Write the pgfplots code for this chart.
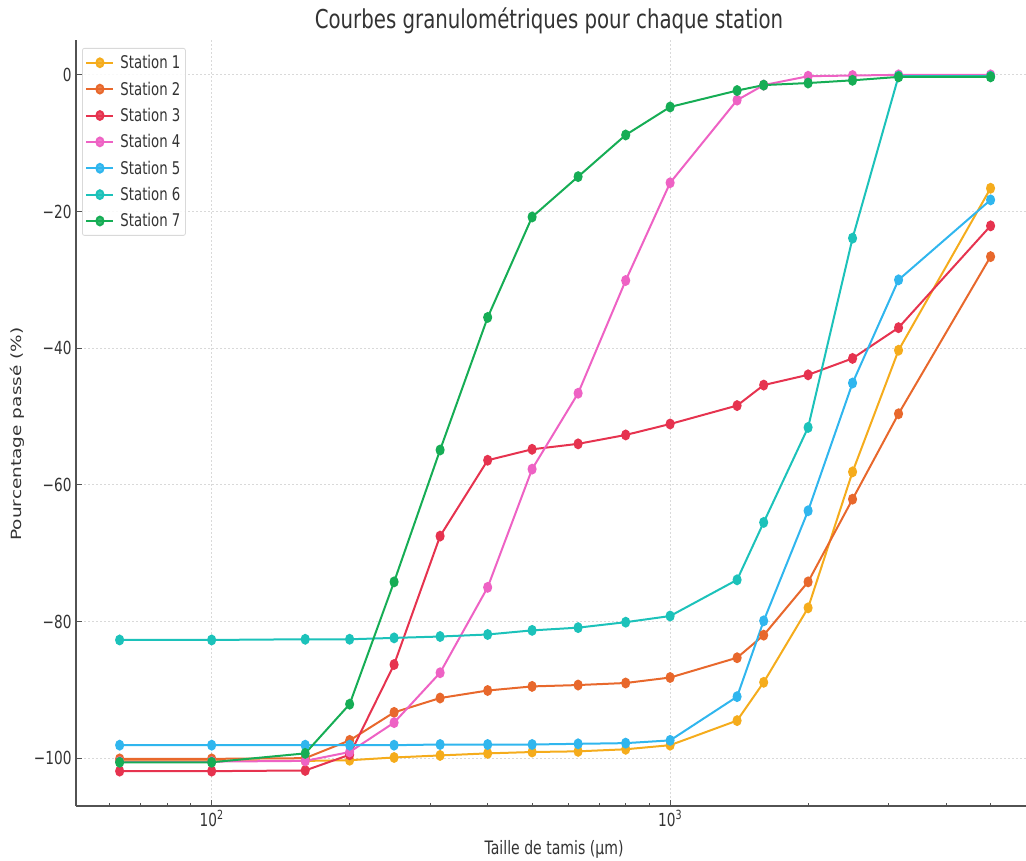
\documentclass[border=0pt]{standalone}
\usepackage{graphicx}
\usepackage{fontspec}
\setmainfont{DejaVu Sans}[FakeStretch=0.76]
\newfontfamily\ylabfont{DejaVu Sans}
\usepackage{pgfplots}
\usepackage{pgfplotstable}
\pgfplotsset{compat=1.18}

\definecolor{cA}{HTML}{F5AC1C}
\definecolor{cB}{HTML}{E8682C}
\definecolor{cC}{HTML}{E6334F}
\definecolor{cD}{HTML}{EE62C4}
\definecolor{cE}{HTML}{30B6EE}
\definecolor{cF}{HTML}{1CC2BA}
\definecolor{cG}{HTML}{16AD55}
\definecolor{txt}{HTML}{333333}

\pgfplotstableread{
x     s1     s2     s3     s4     s5    s6    s7
63   -100.4 -100.1 -101.9 -100.5 -98.1 -82.7 -100.6
100  -100.4 -100.1 -101.9 -100.5 -98.1 -82.7 -100.6
160  -100.4 -100.0 -101.8 -100.4 -98.1 -82.6 -99.3
200  -100.3 -97.4  -99.5  -99.1  -98.1 -82.6 -92.1
250  -99.9  -93.3  -86.3  -94.8  -98.1 -82.4 -74.2
315  -99.6  -91.2  -67.5  -87.5  -98.0 -82.2 -54.9
400  -99.3  -90.1  -56.4  -75.0  -98.0 -81.9 -35.5
500  -99.1  -89.5  -54.8  -57.7  -98.0 -81.3 -20.8
630  -99.0  -89.3  -54.0  -46.6  -97.9 -80.9 -14.9
800  -98.7  -89.0  -52.7  -30.1  -97.8 -80.1 -8.8
1000 -98.1  -88.2  -51.1  -15.8  -97.4 -79.2 -4.7
1400 -94.5  -85.3  -48.4  -3.7   -91.0 -73.9 -2.3
1600 -88.9  -82.0  -45.4  -1.5   -79.9 -65.5 -1.5
2000 -78.0  -74.2  -43.9  -0.2   -63.8 -51.6 -1.2
2500 -58.1  -62.1  -41.5  -0.1   -45.1 -23.9 -0.8
3150 -40.3  -49.6  -37.0  0.0    -30.0 -0.2  -0.3
5000 -16.6  -26.6  -22.1  0.0    -18.3 -0.2  -0.3
}\data

\begin{document}
\begin{tikzpicture}
\begin{axis}[
  at={(76bp,55bp)}, anchor=south west,
  scale only axis, width=958bp, height=766bp,
  xmode=log, xmin=50.6, xmax=6220,
  ymin=-107, ymax=5.1,
  axis x line*=bottom, axis y line*=left,
  axis line style={draw=txt!85, line width=1.3bp},
  tick align=inside,
  major tick length=6bp, minor tick length=3.5bp,
  tick style={draw=txt!85, line width=0.9bp},
  xtick={100,1000},
  xticklabels={10\textsuperscript{2},10\textsuperscript{3}},
  minor xtick={60,70,80,90,200,300,400,500,600,700,800,900,2000,3000,4000,5000,6000},
  ytick={-100,-80,-60,-40,-20,0},
  yticklabels={−100,−80,−60,−40,−20,0},
  ticklabel style={font=\fontsize{18bp}{20bp}\selectfont, text=txt},
  xticklabel style={yshift=-1bp},
  yticklabel style={xshift=-1bp},
  grid=major,
  major grid style={draw=gray!30, line width=0.7bp, dash pattern=on 2bp off 2bp},
  title={Courbes granulométriques pour chaque station},
  title style={at={(axis description cs:0.4937,1.0078)}, anchor=base, font=\fontsize{26bp}{30bp}\selectfont, text=txt},
  xlabel={Taille de tamis (µm)},
  xlabel style={at={(axis description cs:0.499,-0.0627)}, anchor=base, font=\fontsize{18.5bp}{20bp}\selectfont, text=txt},
  ylabel={\scalebox{1}[0.76]{\ylabfont Pourcentage passé (\%)}},
  ylabel style={at={(axis description cs:-0.0611,0.4856)}, anchor=center, font=\fontsize{18.5bp}{20bp}\selectfont, text=txt},
  every axis plot/.append style={line width=2bp, mark=*, mark size=4.4bp, mark options={solid, xscale=0.8}},
  legend cell align=left,
  legend style={at={(axis description cs:0.0063,0.9896)}, anchor=north west,
    font=\fontsize{17.5bp}{19bp}\selectfont, text=txt,
    draw=gray!30, line width=0.8bp, rounded corners=2bp, fill=white, fill opacity=0.85, text opacity=1,
    inner xsep=3bp, inner ysep=5bp, row sep=7.6bp},
  legend image code/.code={\draw[mark repeat=2, mark phase=2] plot coordinates {(0bp,0bp) (13.5bp,0bp) (27bp,0bp)};\path (31bp,0bp);},
]
\addplot[color=cA] table[x=x, y=s1] {\data};
\addlegendentry{Station 1}
\addplot[color=cB] table[x=x, y=s2] {\data};
\addlegendentry{Station 2}
\addplot[color=cC] table[x=x, y=s3] {\data};
\addlegendentry{Station 3}
\addplot[color=cD] table[x=x, y=s4] {\data};
\addlegendentry{Station 4}
\addplot[color=cE] table[x=x, y=s5] {\data};
\addlegendentry{Station 5}
\addplot[color=cF] table[x=x, y=s6] {\data};
\addlegendentry{Station 6}
\addplot[color=cG] table[x=x, y=s7] {\data};
\addlegendentry{Station 7}
\end{axis}
\pgfresetboundingbox
\useasboundingbox (0,0) rectangle (1026bp,861bp);
\end{tikzpicture}
\end{document}
